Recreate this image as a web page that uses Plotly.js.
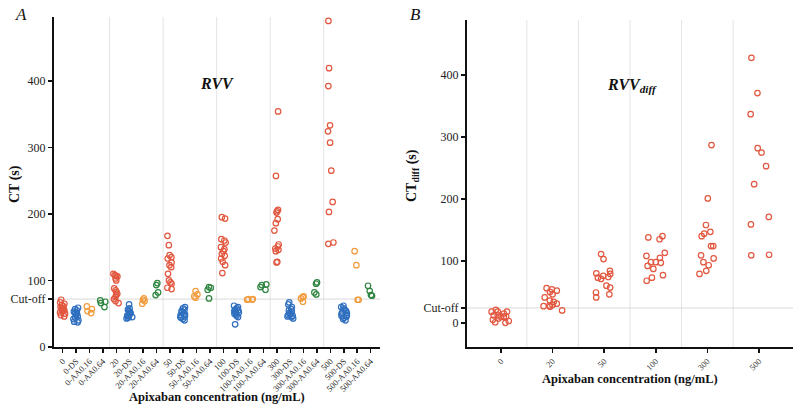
<!DOCTYPE html>
<html>
<head>
<meta charset="utf-8">
<script src="https://cdn.plot.ly/plotly-3.0.1.min.js"></script>
<style>html,body{margin:0;padding:0;background:#fff;}#chart{width:800px;height:409px;}</style>
</head>
<body>
<div id="chart"></div>
<script>
// ---------- Panel A : RVV clotting time (s) ----------
const concentrations = ['0', '20', '50', '100', '300', '500'];
const suffixes = ['', '-DS', '-AA0.16', '-AA0.64'];

const ct_0        = [71, 67, 65, 63, 61, 60, 58, 57, 56, 55, 54, 52, 50, 48, 46];
const ct_0_DS     = [59, 57, 55, 53, 51, 50, 48, 46, 44, 42, 40, 38, 37];
const ct_0_AA016  = [61, 57, 54, 51];
const ct_0_AA064  = [70, 68, 66, 60];

const ct_20       = [110, 108, 107, 106, 103, 100, 88, 85, 83, 80, 78, 75, 72, 69, 66];
const ct_20_DS    = [64, 58, 56, 54, 52, 51, 50, 48, 47, 46, 45, 44, 43];
const ct_20_AA016 = [73, 71, 69, 65];
const ct_20_AA064 = [96, 93, 82, 78];

const ct_50       = [167, 153, 138, 135, 133, 127, 123, 120, 110, 100, 97, 95, 89, 87];
const ct_50_DS    = [60, 58, 56, 54, 52, 50, 49, 48, 46, 45, 44, 42, 40];
const ct_50_AA016 = [84, 79, 76, 74];
const ct_50_AA064 = [90, 89, 86, 73];

const ct_100       = [195, 193, 162, 160, 157, 150, 147, 144, 140, 137, 133, 128, 123, 111];
const ct_100_DS    = [62, 60, 58, 56, 55, 54, 53, 52, 51, 50, 49, 47, 45, 34];
const ct_100_AA016 = [72, 72, 71, 71];
const ct_100_AA064 = [94, 93, 90, 86];

const ct_300       = [354, 257, 206, 204, 202, 192, 186, 175, 154, 151, 148, 146, 144, 128, 127];
const ct_300_DS    = [67, 64, 60, 57, 55, 53, 51, 50, 49, 48, 47, 46, 45, 43];
const ct_300_AA016 = [76, 75, 73, 68];
const ct_300_AA064 = [97, 95, 82, 79];

const ct_500       = [490, 419, 392, 333, 324, 307, 265, 218, 203, 157, 155];
const ct_500_DS    = [62, 60, 58, 56, 54, 52, 51, 50, 48, 47, 46, 44, 42, 40];
const ct_500_AA016 = [144, 123, 71, 71];
const ct_500_AA064 = [92, 84, 78, 77];

const cutoffA = 72;

// ---------- Panel B : RVV diff (s) ----------
const diff_0   = [21, 18, 18, 18, 15, 12, 12, 10, 10, 10, 7, 5, 3, 1, 0];
const diff_20  = [56, 54, 52, 50, 46, 41, 36, 34, 31, 29, 28, 27, 26, 20];
const diff_50  = [111, 103, 84, 80, 79, 76, 74, 73, 71, 60, 57, 49, 46, 41];
const diff_100 = [140, 138, 135, 113, 108, 105, 98, 98, 97, 92, 87, 77, 73, 68];
const diff_300 = [287, 201, 158, 147, 144, 140, 124, 124, 109, 104, 98, 93, 84, 79];
const diff_500 = [428, 371, 337, 282, 275, 253, 224, 171, 159, 110, 109];

const cutoffB = 24;

// ---------- build ----------
const groupsA = [
  [ct_0,   ct_0_DS,   ct_0_AA016,   ct_0_AA064],
  [ct_20,  ct_20_DS,  ct_20_AA016,  ct_20_AA064],
  [ct_50,  ct_50_DS,  ct_50_AA016,  ct_50_AA064],
  [ct_100, ct_100_DS, ct_100_AA016, ct_100_AA064],
  [ct_300, ct_300_DS, ct_300_AA016, ct_300_AA064],
  [ct_500, ct_500_DS, ct_500_AA016, ct_500_AA064]
];
const groupsB = [diff_0, diff_20, diff_50, diff_100, diff_300, diff_500];

const colorsA = ['#e2573f', '#2f6fbf', '#f29b3c', '#2e8540'];
const categoriesA = [];
concentrations.forEach(c => suffixes.forEach(s => categoriesA.push(c + s)));

const FONT = '"Liberation Serif", "Times New Roman", Times, serif';
const traces = [];

suffixes.forEach((s, k) => {
  const xs = [], ys = [];
  concentrations.forEach((c, i) => {
    groupsA[i][k].forEach(v => { xs.push(c + s); ys.push(v); });
  });
  traces.push({
    type: 'box', x: xs, y: ys, xaxis: 'x', yaxis: 'y',
    boxpoints: 'all', jitter: 0.95, pointpos: 0,
    fillcolor: 'rgba(0,0,0,0)', line: {width: 0, color: 'rgba(0,0,0,0)'},
    whiskerwidth: 0,
    marker: {symbol: 'circle-open', size: 5.5, color: colorsA[k], line: {width: 1.2, color: colorsA[k]}},
    hoverinfo: 'y', showlegend: false
  });
});

{
  const xs = [], ys = [];
  concentrations.forEach((c, i) => groupsB[i].forEach(v => { xs.push(c); ys.push(v); }));
  traces.push({
    type: 'box', x: xs, y: ys, xaxis: 'x2', yaxis: 'y2',
    boxpoints: 'all', jitter: 0.85, pointpos: 0,
    fillcolor: 'rgba(0,0,0,0)', line: {width: 0, color: 'rgba(0,0,0,0)'},
    whiskerwidth: 0,
    marker: {symbol: 'circle-open', size: 5.5, color: '#e2573f', line: {width: 1.2, color: '#e2573f'}},
    hoverinfo: 'y', showlegend: false
  });
}

const shapes = [];
for (let i = 0; i < concentrations.length - 1; i++) {
  shapes.push({type: 'line', xref: 'x', yref: 'y domain', x0: i * 4 + 3.5, x1: i * 4 + 3.5, y0: 0, y1: 1,
    line: {color: '#e3e3e3', width: 1}, layer: 'below'});
  shapes.push({type: 'line', xref: 'x2', yref: 'y2 domain', x0: i + 0.5, x1: i + 0.5, y0: 0, y1: 1,
    line: {color: '#e3e3e3', width: 1}, layer: 'below'});
}
shapes.push({type: 'line', xref: 'x domain', yref: 'y', x0: 0, x1: 1, y0: cutoffA, y1: cutoffA,
  line: {color: '#dadada', width: 1}, layer: 'below'});
shapes.push({type: 'line', xref: 'x2 domain', yref: 'y2', x0: 0, x1: 1, y0: cutoffB, y1: cutoffB,
  line: {color: '#dadada', width: 1}, layer: 'below'});

const axisBase = {
  showline: true, linecolor: '#111', linewidth: 2, ticks: 'outside', ticklen: 4, tickwidth: 1.5,
  tickcolor: '#111', showgrid: false, zeroline: false, fixedrange: true,
  tickfont: {family: FONT, size: 12, color: '#222'}
};

function note(text, px, py, size, extra) {
  return Object.assign({
    text: text, xref: 'paper', yref: 'paper', x: px / 800, y: 1 - py / 409,
    xanchor: 'center', yanchor: 'middle', showarrow: false,
    font: {family: FONT, size: size, color: '#111'}
  }, extra || {});
}

const layout = {
  width: 800, height: 409,
  margin: {l: 0, r: 0, t: 0, b: 0},
  paper_bgcolor: '#fff', plot_bgcolor: '#fff',
  boxmode: 'overlay',
  font: {family: FONT, color: '#111'},
  xaxis: Object.assign({}, axisBase, {
    domain: [0.0675, 0.475], anchor: 'y', type: 'category',
    categoryorder: 'array', categoryarray: categoriesA,
    range: [-0.65, 23.7], tickangle: -45,
    tickfont: {family: FONT, size: 8.5, color: '#222'}
  }),
  yaxis: Object.assign({}, axisBase, {
    domain: [0.1516, 0.9587], anchor: 'x', range: [0, 496],
    tickvals: [0, cutoffA, 100, 200, 300, 400],
    ticktext: ['0', 'Cut-off', '100', '200', '300', '400']
  }),
  xaxis2: Object.assign({}, axisBase, {
    domain: [0.58375, 0.99125], anchor: 'y2', type: 'category',
    categoryorder: 'array', categoryarray: concentrations,
    range: [-0.66, 5.66], tickangle: -45,
    tickfont: {family: FONT, size: 8.5, color: '#333'}
  }),
  yaxis2: Object.assign({}, axisBase, {
    domain: [0.1516, 0.951], anchor: 'x2', range: [-39, 489],
    tickvals: [0, cutoffB, 100, 200, 300, 400],
    ticktext: ['0', 'Cut-off', '100', '200', '300', '400']
  }),
  shapes: shapes,
  annotations: [
    note('<i>A</i>', 21, 14, 17),
    note('<i>B</i>', 415, 14, 17),
    note('<b><i>RVV</i></b>', 217, 83, 16),
    note('<b><i>RVV<sub>diff</sub></i></b>', 632, 86, 16),
    note('<b>CT (s)</b>', 15, 184, 14, {textangle: -90}),
    note('<b>CT<sub>diff</sub> (s)</b>', 412, 176, 14, {textangle: -90}),
    note('<b>Apixaban concentration (ng/mL)</b>', 217, 397, 12.5),
    note('<b>Apixaban concentration (ng/mL)</b>', 630, 379, 12.5)
  ]
};

Plotly.newPlot('chart', traces, layout, {displayModeBar: false, staticPlot: true});
</script>
</body>
</html>
